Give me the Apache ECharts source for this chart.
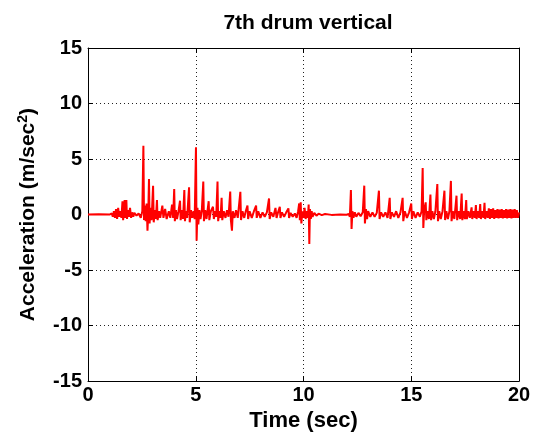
<!DOCTYPE html>
<html><head><meta charset="utf-8">
<script src="https://cdn.jsdelivr.net/npm/echarts@6/dist/echarts.min.js"></script>
<style>html,body{margin:0;padding:0;background:#fff}#c{width:535px;height:437px}</style>
</head><body><div id="c"></div>
<script>
var titleText = '7th drum vertical';
var xName = 'Time (sec)';
var xTicks = [0, 5, 10, 15, 20];
var yTicks = [-15, -10, -5, 0, 5, 10, 15];

// [time (sec), acceleration (m/sec^2)]
var seg0to5 = [[0,0],[0.5,0.02],[1.0,0],[1.1,0.1],[1.15,-0.2],[1.2,0.3],[1.25,-0.3],[1.3,0.5],[1.35,-0.4],[1.4,0.6],[1.45,-0.2],[1.5,0.3],[1.55,-0.3],[1.6,1.2],[1.63,-0.5],[1.67,0.4],[1.7,1.3],[1.73,-0.3],[1.78,1.3],[1.81,-0.4],[1.85,0.4],[1.9,-0.2],[1.95,0.6],[2.0,-0.3],[2.05,0.2],[2.1,-0.2],[2.15,0.15],[2.25,-0.1],[2.35,0.1],[2.45,-0.3],[2.52,0.3],
[2.57,6.2],[2.6,-0.5],[2.64,0.8],[2.68,-0.6],[2.72,1.0],[2.76,-1.45],[2.8,0.4],[2.83,3.2],[2.86,-0.8],[2.9,0.6],[2.95,-0.5],[3.02,2.6],[3.05,-0.7],[3.1,0.4],[3.15,-0.4],[3.2,1.3],[3.23,-0.5],[3.3,0.3],[3.35,-0.3],[3.45,0.8],[3.5,-0.3],[3.58,0.5],[3.65,-0.4],[3.75,0.3],[3.82,-0.3],[3.9,0.9],[3.95,-0.3],[4.0,2.3],[4.03,-0.6],[4.08,0.4],[4.13,-0.4],[4.2,0.3],[4.27,1.25],[4.3,-0.5],[4.36,0.4],[4.41,-0.4],[4.47,2.2],[4.5,-0.6],[4.55,0.3],[4.6,-0.3],[4.69,2.45],[4.72,-0.7],[4.78,0.4],[4.84,-0.3],[4.9,0.3],[4.95,-0.4]];
var seg5to10 = [[5.01,6.07],[5.04,-2.35],[5.08,0.6],[5.12,-0.9],[5.17,0.4],[5.22,-0.4],[5.28,0.3],[5.35,2.97],[5.38,-0.6],[5.44,0.4],[5.5,-0.4],[5.6,1.2],[5.63,-0.5],[5.7,0.3],[5.8,0.7],[5.84,-0.4],[5.9,0.3],[5.95,-0.2],[6.01,2.97],[6.04,-0.6],[6.1,0.3],[6.15,-0.3],[6.2,1.5],[6.23,-0.5],[6.3,0.3],[6.38,-0.3],[6.45,0.4],[6.52,-0.2],[6.6,2.08],[6.63,-0.5],[6.68,-1.45],[6.72,0.3],[6.8,-0.3],[6.87,0.4],[6.95,-0.3],[7.07,2.05],[7.1,-0.5],[7.17,0.3],[7.25,-0.3],[7.32,0.3],[7.4,0.8],[7.43,-0.4],[7.5,0.3],[7.6,-0.3],[7.7,0.3],[7.8,0.8],[7.83,-0.3],[7.9,0.3],[8.0,-0.3],[8.1,0.2],[8.2,-0.2],[8.3,0.2],[8.4,1.45],[8.43,-0.4],[8.5,0.2],[8.6,-0.2],[8.7,0.6],[8.75,-0.3],[8.82,0.2],[8.9,0.7],[8.93,-0.3],[9.0,0.2],[9.1,-0.2],[9.2,0.2],[9.3,0.55],[9.33,-0.3],[9.4,0.15],[9.5,-0.2],[9.6,0.1],[9.68,-0.3],[9.75,0.3],[9.8,1.0],[9.83,-0.5],[9.87,1.1],[9.9,-0.8],[9.95,0.3]];
var seg10to15 = [[10.0,-0.3],[10.05,0.6],[10.1,-0.4],[10.15,0.3],[10.2,-0.3],[10.24,0.9],[10.27,-2.65],[10.3,0.5],[10.34,-0.4],[10.38,0.3],[10.42,-0.2],[10.5,0.15],[10.6,-0.1],[10.7,0.08],[10.85,-0.05],[11.0,0.05],[11.3,-0.03],[11.7,0],[12.0,-0.02],[12.1,0.05],[12.15,-0.2],[12.2,2.2],[12.23,-1.3],[12.27,0.3],[12.32,-0.3],[12.38,0.2],[12.45,-0.2],[12.55,0.15],[12.65,-0.15],[12.75,0.2],[12.82,2.6],[12.85,-0.8],[12.9,0.5],[12.95,-0.4],[13.0,0.3],[13.1,-0.2],[13.2,0.2],[13.3,-0.2],[13.4,0.15],[13.5,2.15],[13.53,-0.4],[13.6,0.2],[13.7,-0.2],[13.8,0.2],[13.9,-0.3],[14.0,1.5],[14.03,-0.4],[14.1,0.2],[14.2,-0.2],[14.3,0.3],[14.4,-0.3],[14.5,0.2],[14.6,1.5],[14.63,-0.6],[14.7,0.3],[14.8,-0.3],[14.9,0.2]];
var seg15to20 = [[15.0,1.0],[15.03,-0.4],[15.1,0.3],[15.2,-0.3],[15.3,0.2],[15.4,-0.2],[15.48,0.3],[15.53,4.2],[15.56,-1.2],[15.6,0.4],[15.67,1.1],[15.7,-0.5],[15.76,0.3],[15.82,-0.4],[15.89,1.8],[15.92,-0.5],[15.98,0.3],[16.05,-0.4],[16.12,0.3],[16.21,2.75],[16.24,-0.6],[16.3,0.3],[16.37,-0.4],[16.45,0.3],[16.54,2.15],[16.57,-0.5],[16.63,0.3],[16.7,-0.4],[16.77,0.3],[16.84,3.03],[16.87,-0.6],[16.93,0.3],[17.0,-0.4],[17.1,1.7],[17.13,-0.5],[17.2,0.3],[17.27,-0.4],[17.34,1.9],[17.37,-0.5],[17.43,0.3],[17.49,-0.4],[17.55,1.3],[17.58,-0.4],[17.65,0.3],[17.72,-0.3],[17.8,0.65],[17.83,-0.4],[17.9,0.3],[17.95,-0.3],[18.0,0.85],[18.03,-0.4],[18.1,0.3],[18.15,-0.3],[18.2,0.95],[18.23,-0.4],[18.3,0.3],[18.35,-0.3],[18.4,1.05],[18.43,-0.4],[18.5,0.3],[18.55,-0.3],[18.6,0.55],[18.65,-0.4],[18.7,0.5],[18.75,-0.3],[18.8,0.55],[18.85,-0.4],[18.9,0.4],[18.95,-0.3],[19.0,0.5],[19.05,-0.35],[19.1,0.45],[19.15,-0.3],[19.2,0.5],[19.25,-0.35],[19.3,0.4],[19.35,-0.3],[19.4,0.5],[19.45,-0.35],[19.5,0.45],[19.55,-0.3],[19.6,0.5],[19.65,-0.35],[19.7,0.45],[19.75,-0.3],[19.8,0.5],[19.85,-0.3],[19.9,0.4],[19.95,-0.3],[20,0.2]];

var signal = seg0to5.concat(seg5to10, seg10to15, seg15to20);

var FONT = '"Liberation Sans", Arial, Helvetica, sans-serif';
var chart = echarts.init(document.getElementById('c'), null, {renderer: 'canvas'});
function axisCommon(min, max, ticks, showLabel, isX, pos) {
  return {
    type: 'value', min: min, max: max, interval: ticks[1] - ticks[0], position: pos,
    axisLine: {show: true, onZero: false, lineStyle: {color: '#000', width: 1}},
    axisTick: {show: true, inside: true, length: 5, lineStyle: {color: '#000', width: 1}},
    axisLabel: {show: showLabel, color: '#000', fontFamily: FONT, fontWeight: 'bold', fontSize: 20, margin: isX ? 4 : 6},
    splitLine: {show: showLabel, lineStyle: {color: '#222', type: [1, 3], width: 1}}
  };
}
var xb = axisCommon(0, 20, xTicks, true, true, 'bottom');
xb.name = xName; xb.nameLocation = 'middle'; xb.nameGap = 27;
xb.nameTextStyle = {color: '#000', fontFamily: FONT, fontWeight: 'bold', fontSize: 22};
var xt = axisCommon(0, 20, xTicks, false, true, 'top');
var yl = axisCommon(-15, 15, yTicks, true, false, 'left');
yl.name = 'Acceleration (m/sec{sup|2})'; yl.nameLocation = 'middle'; yl.nameGap = 47;
yl.nameTextStyle = {color: '#000', fontFamily: FONT, fontWeight: 'bold', fontSize: 21,
  rich: {sup: {fontFamily: FONT, fontWeight: 'bold', fontSize: 14, color: '#000', padding: [0, 0, 11, 0]}}};
var yr = axisCommon(-15, 15, yTicks, false, false, 'right');

chart.setOption({
  animation: false,
  backgroundColor: '#fff',
  title: {text: titleText, left: 303, top: 8, textAlign: 'center',
    textStyle: {color: '#000', fontFamily: FONT, fontWeight: 'bold', fontSize: 21}},
  grid: {left: 88, right: 16, top: 48, bottom: 54, containLabel: false},
  xAxis: [xb, xt],
  yAxis: [yl, yr],
  series: [{
    type: 'line', data: signal, xAxisIndex: 0, yAxisIndex: 0,
    showSymbol: false, symbol: 'none', sampling: null,
    lineStyle: {color: '#ff0000', width: 2}
  }]
});
</script></body></html>
